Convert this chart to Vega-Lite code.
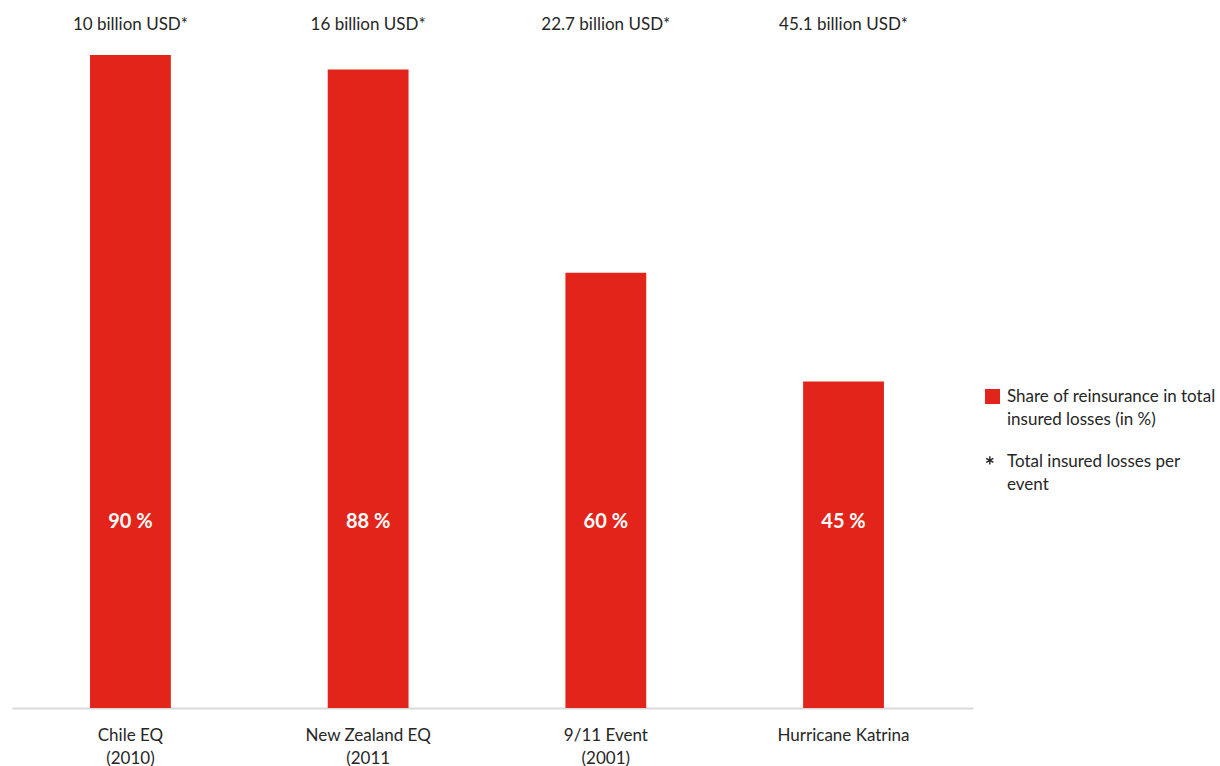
{
  "$schema": "https://vega.github.io/schema/vega-lite/v6.json",
  "width": 961,
  "height": 653,
  "autosize": {"type": "none"},
  "padding": {"left": 12, "top": 55, "right": 247, "bottom": 58},
  "background": "white",
  "config": {"view": {"stroke": null}, "font": "Lato"},
  "data": {
    "values": [
      {"event": "Chile EQ (2010)", "share": 90, "total_bn": 10},
      {"event": "New Zealand EQ (2011", "share": 88, "total_bn": 16},
      {"event": "9/11 Event (2001)", "share": 60, "total_bn": 22.7},
      {"event": "Hurricane Katrina", "share": 45, "total_bn": 45.1}
    ]
  },
  "encoding": {
    "x": {
      "field": "event",
      "type": "nominal",
      "sort": null,
      "scale": {"paddingInner": 0.66, "paddingOuter": 0.3515, "align": 0.467},
      "axis": {
        "title": null,
        "labelAngle": 0,
        "ticks": false,
        "domainColor": "#d9d9d9",
        "domainWidth": 2,
        "labelFont": "Lato",
        "labelFontSize": 17,
        "labelColor": "#262626",
        "labelLineHeight": 23,
        "labelPadding": 19,
        "labelLimit": 300,
        "labelExpr": "split(replace(datum.label, ' (', '|('), '|')"
      }
    }
  },
  "layer": [
    {
      "mark": {"type": "bar"},
      "encoding": {
        "y": {"field": "share", "type": "quantitative", "scale": {"domain": [0, 90]}, "axis": null},
        "color": {
          "datum": "Share of reinsurance in total insured losses (in %)",
          "scale": {
            "domain": ["Share of reinsurance in total insured losses (in %)", "Total insured losses per event"],
            "range": ["#e3241a", "#262626"]
          },
          "legend": {
            "title": null,
            "orient": "none",
            "legendX": 972,
            "legendY": 333,
            "symbolType": "square",
            "symbolSize": 225,
            "labelFont": "Lato",
            "labelFontSize": 17,
            "labelColor": "#262626",
            "labelLimit": 300,
            "labelOffset": 6,
            "rowPadding": 24,
            "labelExpr": "indexof(datum.label, 'Share') === 0 ? ['Share of reinsurance in total', 'insured losses (in %)'] : ['Total insured losses per', 'event']",
            "encode": {
              "labels": {
                "update": {
                  "lineHeight": {"value": 23}
                }
              },
              "symbols": {
                "update": {
                  "shape": {"signal": "indexof(datum.value, 'Share') === 0 ? 'square' : 'M-0.36,-0.7L-0.36,0.4M-0.84,-0.43L0.12,0.13M-0.84,0.13L0.12,-0.43'"},
                  "fill": {"signal": "indexof(datum.value, 'Share') === 0 ? '#e3241a' : 'transparent'"},
                  "stroke": {"signal": "indexof(datum.value, 'Share') === 0 ? 'transparent' : '#262626'"},
                  "strokeWidth": {"value": 1.4}
                }
              }
            }
          }
        }
      }
    },
    {
      "transform": [{"calculate": "datum.share + ' %'", "as": "pct"}],
      "mark": {"type": "text", "font": "Lato", "fontSize": 20, "fontWeight": "bold", "color": "white", "baseline": "middle"},
      "encoding": {
        "y": {"datum": 25.7, "type": "quantitative"},
        "text": {"field": "pct"}
      }
    },
    {
      "transform": [{"calculate": "datum.total_bn + ' billion USD*'", "as": "tot"}],
      "mark": {"type": "text", "font": "Lato", "fontSize": 17, "color": "#262626", "baseline": "middle", "dy": -30},
      "encoding": {
        "y": {"datum": 90, "type": "quantitative"},
        "text": {"field": "tot"}
      }
    }
  ]
}
